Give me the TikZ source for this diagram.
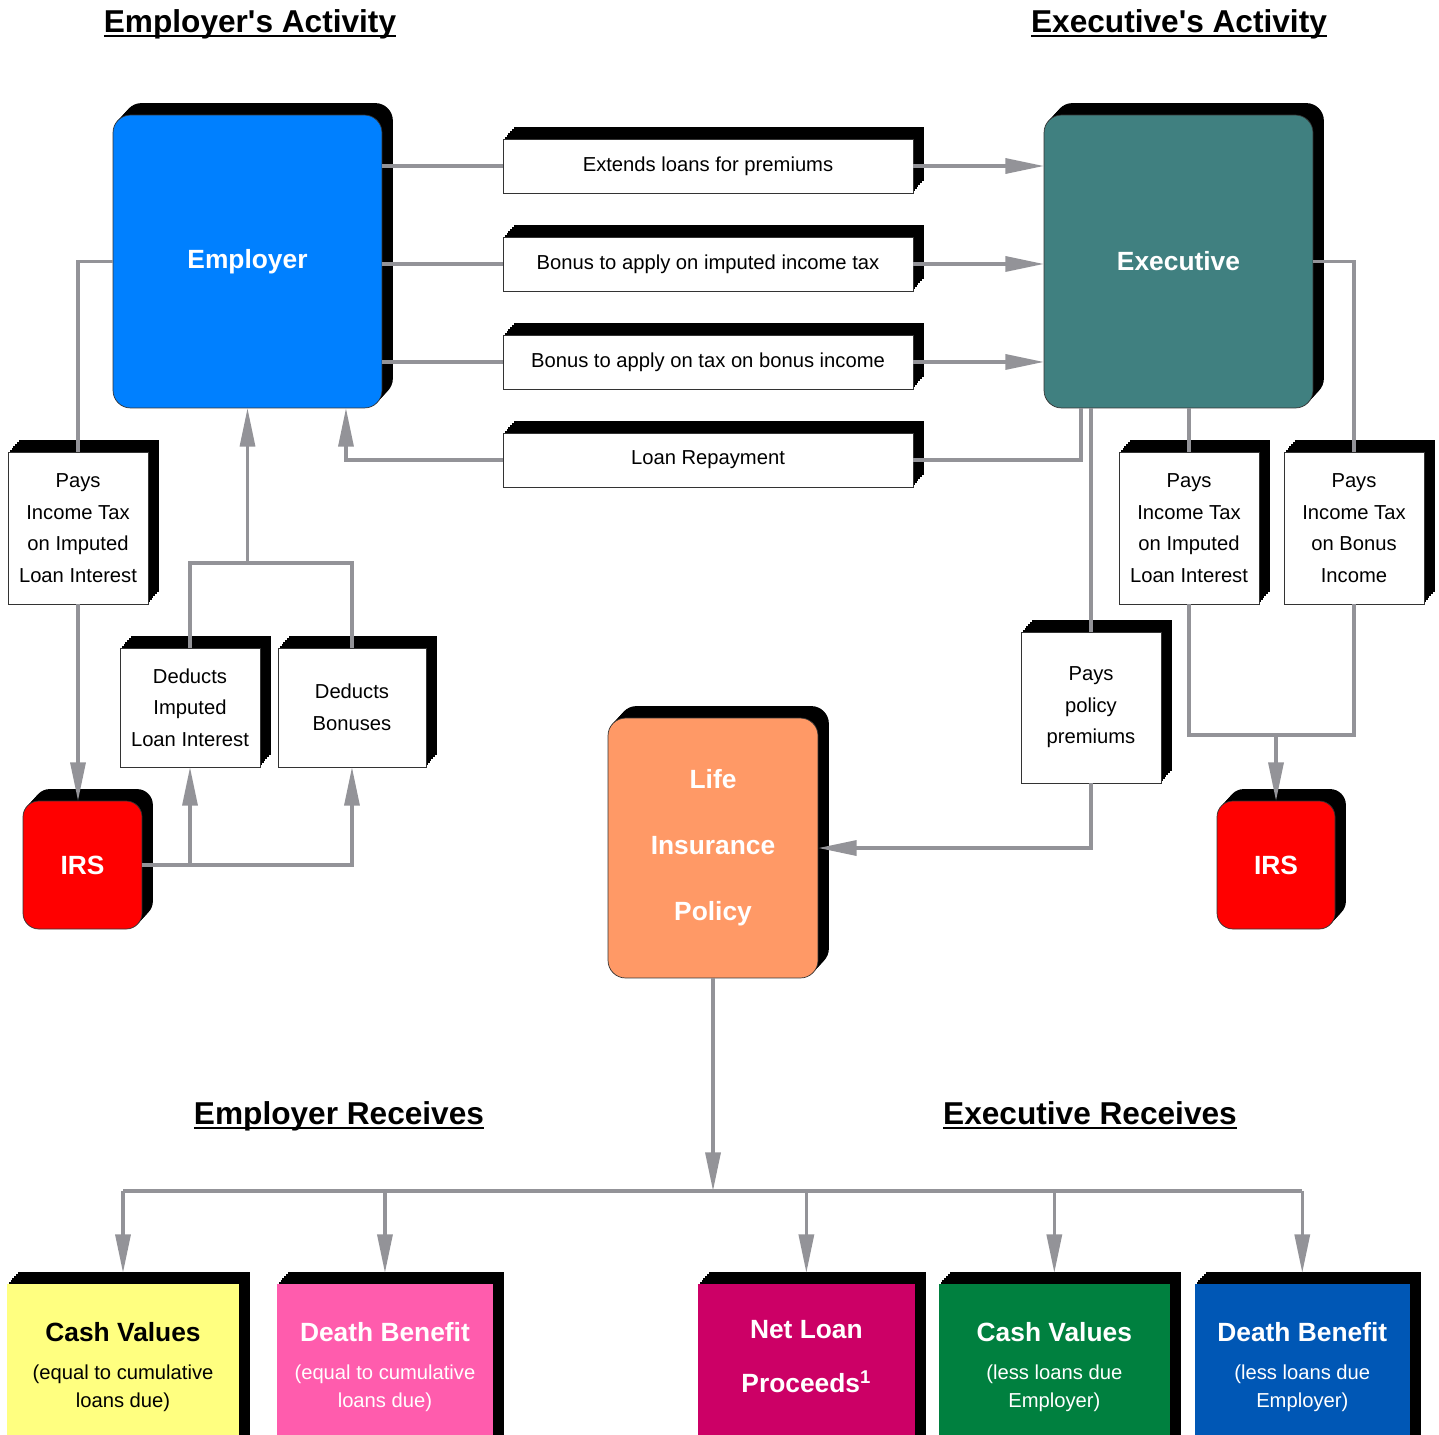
\documentclass[tikz,border=0pt]{standalone}
\usepackage{fontspec}
\setmainfont{Liberation Sans}
\usepackage{xcolor}
\usepackage{tikz}
\usetikzlibrary{arrows.meta, positioning, shadows}

\definecolor{employerblue}{HTML}{0080FF}
\definecolor{execteal}{HTML}{408080}
\definecolor{irsred}{HTML}{FF0000}
\definecolor{policyorange}{HTML}{FF9966}
\definecolor{cashyellow}{HTML}{FFFF80}
\definecolor{deathpink}{HTML}{FF5CAD}
\definecolor{loanmagenta}{HTML}{CC0066}
\definecolor{cashgreen}{HTML}{00803F}
\definecolor{deathblue}{HTML}{0057B5}
\definecolor{linkgray}{HTML}{939398}

\newcommand{\headline}[1]{\setbox0\hbox{#1}\rlap{\rule[-2.6pt]{\wd0}{1.1pt}}\box0}
\newcommand{\restitle}[1]{{\bfseries\fontsize{15}{16}\selectfont #1}}

\begin{document}
\begin{tikzpicture}[
  x=0.02cm, y=-0.02cm,
  raised/.style={
    general shadow={fill=black, shadow xshift=1.03pt, shadow yshift=1.13pt},
    general shadow={fill=black, shadow xshift=2.07pt, shadow yshift=2.27pt},
    general shadow={fill=black, shadow xshift=3.1pt, shadow yshift=3.4pt},
    general shadow={fill=black, shadow xshift=4.13pt, shadow yshift=4.53pt},
    general shadow={fill=black, shadow xshift=5.17pt, shadow yshift=5.67pt},
    general shadow={fill=black, shadow xshift=6.2pt, shadow yshift=6.8pt}},
  box/.style={rectangle, draw=black!80, thin, fill=white, raised, outer sep=0pt,
             align=center, font=\fontsize{11.5}{18}\selectfont},
  flowbox/.style={box, minimum width=8.2cm, minimum height=1.08cm},
  notebox/.style={box, minimum width=2.8cm},
  actor/.style={rectangle, rounded corners=10pt, draw=black!80, thin, raised,
             outer sep=0pt, align=center, text=white,
             font=\bfseries\fontsize{15}{18}\selectfont},
  result/.style={rectangle, raised, outer sep=0pt, minimum height=3.32cm,
             align=center, text=white, font=\fontsize{11.5}{16}\selectfont},
  heading/.style={anchor=base, font=\bfseries\fontsize{18}{22}\selectfont},
  link/.style={draw=linkgray, line width=2pt},
  arrow/.style={link, -{Triangle[length=22pt, width=8.5pt]}}
]

\useasboundingbox (0,0) rectangle (1439,1434);

\node[heading] (empact) at (250,32) {\headline{Employer\textquotesingle s Activity}};
\node[heading] (exeact) at (1179,32) {\headline{Executive\textquotesingle s Activity}};
\node[heading] (emprec) at (339,1124) {\headline{Employer Receives}};
\node[heading] (exerec) at (1090,1124) {\headline{Executive Receives}};

\node[actor, fill=employerblue, minimum width=5.38cm, minimum height=5.86cm] (emp) at (247.5,261.5) {Employer};
\node[actor, fill=execteal, minimum width=5.38cm, minimum height=5.86cm] (exe) at (1178.5,261.5) {Executive};

\node[flowbox] (loans) at (708,166) {Extends loans for premiums};
\node[flowbox, below=0.88cm of loans] (bonusA) {Bonus to apply on imputed income tax};
\node[flowbox, below=0.88cm of bonusA] (bonusB) {Bonus to apply on tax on bonus income};
\node[flowbox, below=0.88cm of bonusB] (repay) {Loan Repayment};

\node[notebox, minimum height=3.04cm] (paysL) at (78,528) {Pays\\Income Tax\\on Imputed\\Loan Interest};
\node[notebox, minimum height=2.38cm] (dedA) at (190,707.5) {Deducts\\Imputed\\Loan Interest};
\node[notebox, minimum height=2.38cm, minimum width=2.96cm, right=0.36cm of dedA] (dedB) {Deducts\\Bonuses};
\node[actor, fill=irsred, rounded corners=9pt, minimum width=2.38cm, minimum height=2.56cm] (irsL) at (82.5,865) {IRS};

\node[notebox, minimum height=3.04cm] (paysA) at (1189,528) {Pays\\Income Tax\\on Imputed\\Loan Interest};
\node[notebox, minimum height=3.04cm, right=0.5cm of paysA] (paysB) {Pays\\Income Tax\\on Bonus\\Income};
\node[notebox, minimum height=3.02cm] (premiums) at (1091,707.5) {Pays\\policy\\premiums};
\node[actor, fill=irsred, rounded corners=9pt, minimum width=2.36cm, minimum height=2.56cm] (irsR) at (1276,865) {IRS};

\node[actor, fill=policyorange, minimum width=4.2cm, minimum height=5.2cm,
      font=\bfseries\fontsize{15}{37.5}\selectfont] (life) at (713,848) {Life\\Insurance\\Policy};

\node[result, fill=cashyellow, text=black, minimum width=4.64cm] (cashA) at (123,1367) {\restitle{Cash Values}\\[6pt](equal to cumulative\\loans due)};
\node[result, fill=deathpink, minimum width=4.32cm, right=0.76cm of cashA] (deathA) {\restitle{Death Benefit}\\[6pt](equal to cumulative\\loans due)};
\node[result, fill=loanmagenta, minimum width=4.34cm, text depth=12pt, right=4.1cm of deathA] (netloan) {\restitle{Net Loan}\\[15pt]\restitle{Proceeds\textsuperscript{1}}};
\node[result, fill=cashgreen, minimum width=4.62cm, right=0.48cm of netloan] (cashB) {\restitle{Cash Values}\\[6pt](less loans due\\Employer)};
\node[result, fill=deathblue, minimum width=4.3cm, right=0.5cm of cashB] (deathB) {\restitle{Death Benefit}\\[6pt](less loans due\\Employer)};

\draw[link] (emp.east |- loans) -- (loans.west);
\draw[arrow] (loans.east) -- (exe.west |- loans);
\draw[link] (emp.east |- bonusA) -- (bonusA.west);
\draw[arrow] (bonusA.east) -- (exe.west |- bonusA);
\draw[link] (emp.east |- bonusB) -- (bonusB.west);
\draw[arrow] (bonusB.east) -- (exe.west |- bonusB);
\draw[arrow] (repay.west) -| ([shift={(-36,0)}]emp.south east);
\draw[link] (repay.east) -| ([shift={(37,0)}]exe.south west);

\draw[link] (emp.west) -| (paysL.north);
\draw[arrow] (paysL.south) -- (paysL.south |- irsL.north);
\coordinate (dedjoin) at (emp.south |- 0,563);
\draw[link] (dedA.north) |- (dedjoin) -| (dedB.north);
\draw[arrow] (dedjoin) -- (emp.south);
\draw[arrow] (irsL.east) -| (dedB.south);
\draw[arrow] (irsL.east -| dedA.south) -- (dedA.south);

\draw[link] (exe.south -| premiums.north) -- (premiums.north);
\draw[arrow] (premiums.south) |- (life.east);
\draw[link] (exe.south -| paysA.north) -- (paysA.north);
\draw[link] (exe.east) -| (paysB.north);
\coordinate (irsjoin) at (irsR.north |- 0,735);
\draw[link] (paysA.south) |- (irsjoin) -| (paysB.south);
\draw[arrow] (irsjoin) -- (irsR.north);

\coordinate (trunk) at (life.south |- 0,1191);
\draw[arrow] (life.south) -- (trunk);
\draw[link] (trunk -| cashA.north) -- (trunk -| deathB.north);
\draw[arrow] (trunk -| cashA.north) -- ([shift={(0,-11)}]cashA.north);
\draw[arrow] (trunk -| deathA.north) -- ([shift={(0,-11)}]deathA.north);
\draw[arrow] (trunk -| netloan.north) -- ([shift={(0,-11)}]netloan.north);
\draw[arrow] (trunk -| cashB.north) -- ([shift={(0,-11)}]cashB.north);
\draw[arrow] (trunk -| deathB.north) -- ([shift={(0,-11)}]deathB.north);

\end{tikzpicture}
\end{document}
